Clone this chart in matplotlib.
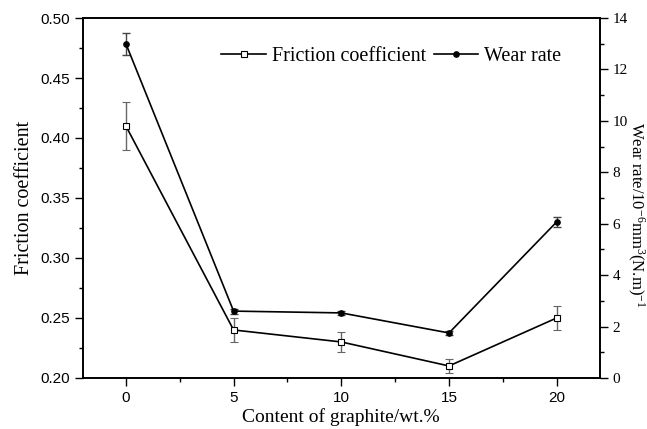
import numpy as np
import matplotlib
matplotlib.use('Agg')
import matplotlib.pyplot as plt
from matplotlib.ticker import MultipleLocator, FormatStrFormatter
from matplotlib.lines import Line2D

# data
content = [0, 5, 10, 15, 20]
friction = [0.41, 0.24, 0.23, 0.21, 0.25]
friction_err = [0.02, 0.01, 0.008, 0.006, 0.01]
wear = [13.0, 2.6, 2.53, 1.75, 6.07]
wear_err = [0.42, 0.1, 0.08, 0.08, 0.2]

serif = 'Liberation Serif'
sans = 'Liberation Sans'
matplotlib.rcParams['mathtext.fontset'] = 'custom'
matplotlib.rcParams['mathtext.rm'] = serif
matplotlib.rcParams['mathtext.it'] = serif

fig = plt.figure(figsize=(6.47, 4.29), dpi=100)
ax = fig.add_axes([0.128, 0.119, 0.799, 0.839])
ax2 = ax.twinx()

ax.errorbar(content, friction, yerr=friction_err, color='black', lw=1.2,
            marker='s', ms=3.8, mfc='white', mec='black', mew=0.8,
            ecolor='#666666', elinewidth=1.0, capsize=3, capthick=1.0)
ax2.errorbar(content, wear, yerr=wear_err, color='black', lw=1.2,
             marker='o', ms=3.8, mfc='black', mec='black',
             ecolor='#444444', elinewidth=1.0, capsize=3, capthick=1.0)

ax.set_xlim(-2, 22)
ax.set_ylim(0.20, 0.50)
ax2.set_ylim(0, 14)

ax.xaxis.set_major_locator(MultipleLocator(5))
ax.xaxis.set_minor_locator(MultipleLocator(2.5))
ax.yaxis.set_major_locator(MultipleLocator(0.05))
ax.yaxis.set_minor_locator(MultipleLocator(0.025))
ax.yaxis.set_major_formatter(FormatStrFormatter('%.2f'))
ax2.yaxis.set_major_locator(MultipleLocator(2))
ax2.yaxis.set_minor_locator(MultipleLocator(1))

ax.tick_params(axis='both', which='both', direction='out', top=False, right=False)
ax.tick_params(which='major', length=6, width=1)
ax.tick_params(which='minor', length=3, width=1)
ax2.tick_params(which='major', direction='out', length=6, width=1, pad=3)
ax2.tick_params(which='minor', direction='out', length=3, width=1)

for lab in ax.get_xticklabels() + ax.get_yticklabels():
    lab.set_fontfamily(sans)
    lab.set_fontsize(11)
for lab in ax2.get_yticklabels():
    lab.set_fontfamily(serif)
    lab.set_fontsize(11)

for a in (ax, ax2):
    for s in a.spines.values():
        s.set_linewidth(1.2)

ax.set_xlabel('Content of graphite/wt.%', fontfamily=serif, fontsize=14, labelpad=2)
ax.set_ylabel('Friction coefficient', fontfamily=serif, fontsize=14.5, labelpad=4)
fig.text(0.982, 0.50, r'Wear rate/10$^{-6}$mm$^{3}$(N.m)$^{-1}$', fontfamily=serif,
         fontsize=12, rotation=270, ha='center', va='center')

handles = [Line2D([], [], color='black', lw=1.2, marker='s', ms=3.8, mfc='white', mew=0.8),
           Line2D([], [], color='black', lw=1.2, marker='o', ms=3.8, mfc='black')]
ax.legend(handles, ['Friction coefficient', 'Wear rate'], loc='upper right',
          bbox_to_anchor=(0.961, 0.97), ncol=2, frameon=False, handlelength=2.2,
          columnspacing=0.4, handletextpad=0.3, prop={'family': serif, 'size': 14.5})

fig.savefig('out.png', dpi=100)
